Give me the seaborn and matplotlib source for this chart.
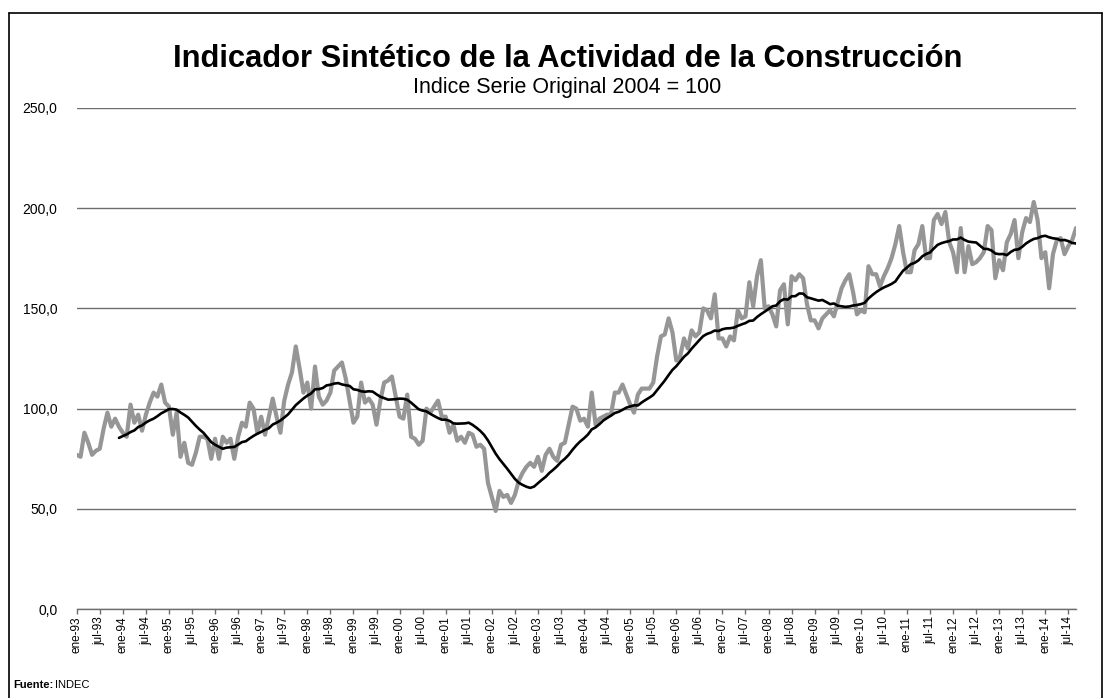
import seaborn as sns
import matplotlib.pyplot as plt
import pandas as pd
from matplotlib.lines import Line2D

# Indicador Sintetico de la Actividad de la Construccion (ISAC), ene-93 .. sep-14
indice_93_97 = [77, 76, 88, 83, 77, 79, 80, 90, 98, 91, 95, 91,
                88, 86, 102, 93, 97, 89, 97, 103, 108, 106, 112, 103,
                101, 87, 98, 76, 83, 73, 72, 78, 86, 86, 85, 75,
                85, 75, 86, 83, 85, 75, 86, 93, 91, 103, 100, 88,
                96, 87, 96, 105, 96, 88, 104, 112, 118, 131, 120, 108]
indice_98_02 = [113, 100, 121, 106, 102, 104, 108, 119, 121, 123, 115, 104,
                93, 96, 113, 103, 105, 102, 92, 104, 113, 114, 116, 106,
                96, 95, 107, 86, 85, 82, 84, 100, 98, 101, 104, 96,
                96, 88, 92, 84, 86, 83, 88, 87, 81, 82, 80, 63,
                56, 49, 59, 56, 57, 53, 57, 64, 68, 71, 73, 71]
indice_03_07 = [76, 69, 77, 80, 76, 74, 82, 83, 92, 101, 100, 94,
                95, 91, 108, 92, 95, 96, 97, 97, 108, 108, 112, 107,
                102, 98, 107, 110, 110, 110, 113, 126, 136, 137, 145, 138,
                124, 126, 135, 130, 139, 136, 138, 150, 149, 145, 157, 135,
                135, 131, 136, 134, 149, 145, 146, 163, 151, 166, 174, 150]
indice_08_14 = [151, 147, 141, 159, 162, 142, 166, 164, 167, 165, 152, 144,
                144, 140, 145, 147, 149, 146, 153, 160, 164, 167, 158, 147,
                149, 148, 171, 167, 167, 161, 166, 170, 175, 182, 191, 178,
                168, 168, 179, 182, 191, 175, 175, 194, 197, 192, 198, 183,
                178, 168, 190, 168, 181, 172, 173, 175, 178, 191, 189, 165,
                174, 169, 183, 187, 194, 175, 188, 195, 193, 203, 194, 175,
                178, 160, 177, 184, 185, 177, 181, 184, 190]
indice = indice_93_97 + indice_98_02 + indice_03_07 + indice_08_14

anios = list(range(1993, 2015))
etiquetas_x = [f'{m}-{str(a)[2:]}' for a in anios for m in ['ene', 'jul']]
valores_y = [0, 50, 100, 150, 200, 250]
etiquetas_y = ['0,0', '50,0', '100,0', '150,0', '200,0', '250,0']

df = pd.DataFrame({'mes': range(len(indice)), 'indice': indice})
# media movil de 12 meses (linea de tendencia)
df['media'] = df['indice'].rolling(12).mean()

sns.set_style('white')
plt.rcParams['font.family'] = ['Liberation Sans', 'DejaVu Sans']
plt.rcParams['text.color'] = 'black'
plt.rcParams['xtick.color'] = 'black'
plt.rcParams['ytick.color'] = 'black'

fig = plt.figure(figsize=(11.1, 6.98), dpi=100)
ax = fig.add_axes([0.0691, 0.1271, 0.9003, 0.7186])

sns.lineplot(data=df, x='mes', y='indice', color='#969696', lw=3.0,
             legend=False, ax=ax)
sns.lineplot(data=df.dropna(), x='mes', y='media', color='black', lw=1.9,
             legend=False, ax=ax)

ax.set_xlim(0, len(indice) - 1)
ax.set_ylim(0, 250)
ax.set_xlabel('')
ax.set_ylabel('')

ax.set_yticks(valores_y)
ax.set_yticklabels(etiquetas_y, fontsize=10)
ax.yaxis.grid(True, color='#6e6e6e', lw=1)
ax.tick_params(axis='y', length=0, pad=14)

ax.set_xticks(range(0, len(etiquetas_x) * 6, 6))
ax.set_xticklabels(etiquetas_x, rotation=90, fontsize=8.5)
ax.tick_params(axis='x', direction='out', length=3.5, width=1,
               color='#6e6e6e', pad=1.5, bottom=True)

for s in ['left', 'right', 'top']:
    ax.spines[s].set_visible(False)
ax.spines['bottom'].set_color('#6e6e6e')
ax.spines['bottom'].set_linewidth(1)

fig.text(0.511, 0.915, 'Indicador Sintético de la Actividad de la Construcción',
         ha='center', va='center', fontsize=22.2, fontweight='bold')
fig.text(0.511, 0.874, 'Indice Serie Original 2004 = 100',
         ha='center', va='center', fontsize=15.5)

fig.text(0.0117, 0.012, 'Fuente:', ha='left', va='bottom', fontsize=8,
         fontweight='bold')
fig.text(0.0495, 0.012, 'INDEC', ha='left', va='bottom', fontsize=8)

# marco del grafico (sin borde inferior)
fig.add_artist(Line2D([0.0084, 0.0084], [0.0, 0.9818], color='black', lw=1.2,
                      transform=fig.transFigure))
fig.add_artist(Line2D([0.0084, 0.9928], [0.9818, 0.9818], color='black', lw=1.2,
                      transform=fig.transFigure))
fig.add_artist(Line2D([0.9928, 0.9928], [0.0, 0.9818], color='black', lw=1.2,
                      transform=fig.transFigure))

fig.savefig('out.png', dpi=100)
